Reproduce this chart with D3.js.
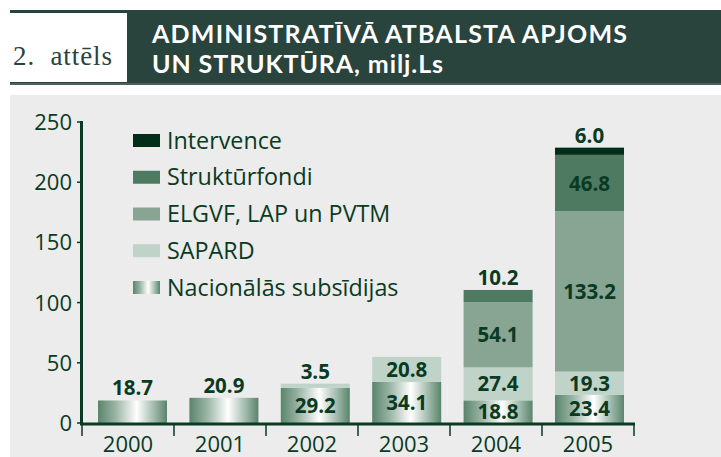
<!DOCTYPE html>
<html>
<head>
<meta charset="utf-8">
<script src="https://cdn.jsdelivr.net/npm/d3@7"></script>
<style>
  html, body { margin: 0; padding: 0; background: #ffffff; }
  svg { display: block; }
</style>
</head>
<body>
<svg id="chart" width="721" height="457"></svg>
<script>
// ---- data ----
const years = ["2000", "2001", "2002", "2003", "2004", "2005"];
const seriesNames = ["Intervence", "Struktūrfondi", "ELGVF, LAP un PVTM", "SAPARD", "Nacionālās subsīdijas"];
const nacionalas = [18.7, 20.9, 29.2, 34.1, 18.8, 23.4];
const sapard = [0, 0, 3.5, 20.8, 27.4, 19.3];
const elgvf = [0, 0, 0, 0, 54.1, 133.2];
const strukturfondi = [0, 0, 0, 0, 10.2, 46.8];
const intervence = [0, 0, 0, 0, 0, 6.0];
const yTicks = [0, 50, 100, 150, 200, 250];
const titleLines = ["ADMINISTRATĪVĀ ATBALSTA APJOMS", "UN STRUKTŪRA, milj.Ls"];
const figLabel = "2.  attēls";

// ---- setup ----
const svg = d3.select("#chart");
const textColor = "#0a3a22";
const fontSans = "'Open Sans', 'Noto Sans', sans-serif";

const keys = ["nac", "sapard", "elgvf", "struk", "interv"];
const rows = years.map((y, i) => ({
  year: y, nac: nacionalas[i], sapard: sapard[i], elgvf: elgvf[i],
  struk: strukturfondi[i], interv: intervence[i]
}));
const colors = { interv: "#022e19", struk: "#4e7a62", elgvf: "#87a592", sapard: "#bfd3c8", nac: "url(#nacGrad)" };
const legendKeys = ["interv", "struk", "elgvf", "sapard", "nac"];

// gradient
const defs = svg.append("defs");
const grad = defs.append("linearGradient").attr("id", "nacGrad")
  .attr("x1", "0%").attr("x2", "100%").attr("y1", "0%").attr("y2", "0%");
[["0%", "#5a846c"], ["25%", "#98b3a3"], ["56%", "#ffffff"], ["80%", "#a5bdaf"], ["100%", "#5a846c"]]
  .forEach(s => grad.append("stop").attr("offset", s[0]).attr("stop-color", s[1]));

// ---- header ----
svg.append("rect").attr("x", 10).attr("y", 10).attr("width", 711).attr("height", 75).attr("fill", "#29433d");
svg.append("rect").attr("x", 10).attr("y", 83).attr("width", 711).attr("height", 2).attr("fill", "#4d625c");
svg.append("rect").attr("x", 10).attr("y", 13).attr("width", 117).attr("height", 69).attr("fill", "#ffffff");
svg.append("text").attr("x", 13).attr("y", 65)
  .attr("font-family", "'Liberation Serif', 'DejaVu Serif', serif").attr("font-size", 27)
  .attr("fill", "#29433d").style("white-space", "pre")
  .attr("textLength", 99).attr("lengthAdjust", "spacing").text(figLabel);
const titleWidths = [475, 291];
titleLines.forEach((t, i) => {
  svg.append("text").attr("x", 152).attr("y", 43 + i * 30)
    .attr("font-family", "Lato, 'Open Sans', sans-serif").attr("font-weight", 700).attr("font-size", 25)
    .attr("textLength", titleWidths[i]).attr("lengthAdjust", "spacing")
    .attr("fill", "#ffffff").text(t);
});

// ---- panel ----
svg.append("rect").attr("x", 10).attr("y", 95).attr("width", 711).attr("height", 362).attr("fill", "#ebeceb");

// ---- scales ----
const y = d3.scaleLinear().domain([0, 250]).range([423, 122]);
const xAxisScale = d3.scaleBand().domain(years).range([82, 634]).padding(0);
const xBar = d3.scaleBand().domain(years).range([98, 624]).paddingInner(0.245).paddingOuter(0);

const stacked = d3.stack().keys(keys)(rows);

// bars
const g = svg.append("g");
stacked.forEach(layer => {
  g.selectAll(null).data(layer.filter(d => d[1] - d[0] > 0)).enter().append("rect")
    .attr("x", d => xBar(d.data.year))
    .attr("width", xBar.bandwidth())
    .attr("y", d => y(d[1]))
    .attr("height", d => y(d[0]) - y(d[1]))
    .attr("fill", colors[layer.key]);
});

// value labels
const fmt = d3.format(".1f");
years.forEach((yr, i) => {
  const segs = [];
  stacked.forEach(layer => {
    const d = layer[i];
    if (d[1] - d[0] > 0) segs.push({ key: layer.key, v: d[1] - d[0], y0: d[0], y1: d[1] });
  });
  segs.forEach((s, j) => {
    const isTop = j === segs.length - 1;
    const above = isTop && (segs.length === 1 || s.v < 15);
    const cx = xBar(yr) + xBar.bandwidth() / 2;
    const yy = above ? y(s.y1) - 5 : (y(s.y0) + y(s.y1)) / 2 + 7.5;
    svg.append("text").attr("x", cx).attr("y", yy)
      .attr("text-anchor", "middle").attr("font-family", fontSans)
      .attr("font-weight", 700).attr("font-size", 20.5).attr("fill", textColor)
      .text(fmt(s.v));
  });
});

// y axis
svg.append("line").attr("x1", 81.5).attr("x2", 81.5).attr("y1", 121).attr("y2", 425)
  .attr("stroke", textColor).attr("stroke-width", 3);
yTicks.forEach(t => {
  svg.append("line").attr("x1", 77).attr("x2", 82).attr("y1", y(t)).attr("y2", y(t))
    .attr("stroke", textColor).attr("stroke-width", 1.5);
  svg.append("text").attr("x", 72).attr("y", y(t) + 8).attr("text-anchor", "end")
    .attr("font-family", fontSans).attr("font-size", 22).attr("fill", textColor).text(t);
});

// x axis
svg.append("line").attr("x1", 80).attr("x2", 635).attr("y1", 424).attr("y2", 424)
  .attr("stroke", textColor).attr("stroke-width", 3);
const bounds = years.map(yr => xAxisScale(yr)).concat([xAxisScale.range()[1]]);
bounds.forEach(b => {
  svg.append("line").attr("x1", b).attr("x2", b).attr("y1", 424).attr("y2", 436)
    .attr("stroke", textColor).attr("stroke-width", 1.5);
});
years.forEach(yr => {
  svg.append("text").attr("x", xAxisScale(yr) + xAxisScale.bandwidth() / 2).attr("y", 452)
    .attr("text-anchor", "middle").attr("font-family", fontSans).attr("font-size", 22)
    .attr("fill", textColor).text(yr);
});

// legend
const legY = d3.scalePoint().domain(legendKeys).range([140.5, 287.5]);
legendKeys.forEach((k, i) => {
  svg.append("rect").attr("x", 133).attr("y", legY(k) - 6.5).attr("width", 27).attr("height", 13)
    .attr("fill", colors[k]);
  svg.append("text").attr("x", 167).attr("y", legY(k) + 8)
    .attr("font-family", fontSans).attr("font-size", 23.3).attr("fill", textColor)
    .text(seriesNames[i]);
});
</script>
</body>
</html>
